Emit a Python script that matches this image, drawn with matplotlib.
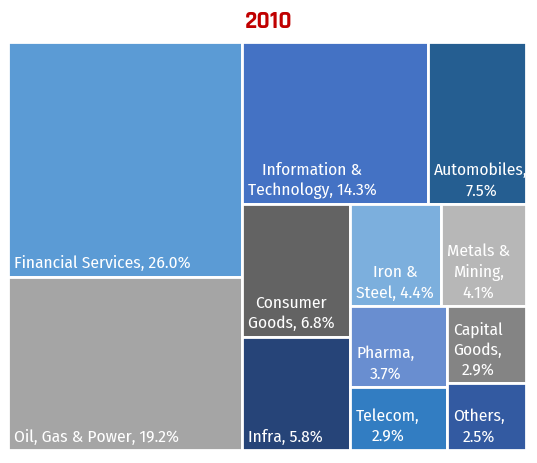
import matplotlib
matplotlib.use("Agg")
import matplotlib.pyplot as plt
from matplotlib.patches import Rectangle

# sector share, 2010 (%)
sectors = ["Financial Services", "Oil, Gas & Power", "Information & Technology",
           "Automobiles", "Consumer Goods", "Infra", "Iron & Steel",
           "Metals & Mining", "Pharma", "Telecom", "Capital Goods", "Others"]
shares = [26.0, 19.2, 14.3, 7.5, 6.8, 5.8, 4.4, 4.1, 3.7, 2.9, 2.9, 2.5]
labels = ["Financial Services, 26.0%", "Oil, Gas & Power, 19.2%",
          "Information &\nTechnology, 14.3%", "Automobiles,\n7.5%",
          "Consumer\nGoods, 6.8%", "Infra, 5.8%", "Iron &\nSteel, 4.4%",
          "Metals &\nMining,\n4.1%", "Pharma,\n3.7%", "Telecom,\n2.9%",
          "Capital\nGoods,\n2.9%", "Others,\n2.5%"]
colors = ["#5B9BD5", "#A5A5A5", "#4472C4", "#255E91", "#636363", "#264478",
          "#7CAFDD", "#B7B7B7", "#698ED0", "#327DC2", "#848484", "#335AA1"]


def worst(row, w):
    s = sum(row)
    return max(max(w * w * r / (s * s), s * s / (w * w * r)) for r in row)


def layout_row(row, x, y, dx, dy):
    # place a row of areas along the shorter side, return rects + leftover box
    s = sum(row)
    rects = []
    if dx >= dy:
        width = s / dy
        cy = y
        for r in row:
            h = r / width
            rects.append((x, cy, width, h))
            cy += h
        return rects, (x + width, y, dx - width, dy)
    height = s / dx
    cx = x
    for r in row:
        w = r / height
        rects.append((cx, y, w, height))
        cx += w
    return rects, (x, y + height, dx, dy - height)


def squarify(values, x, y, dx, dy):
    total = sum(values)
    areas = [v * dx * dy / total for v in values]
    rects = []
    box = (x, y, dx, dy)
    i = 0
    while i < len(areas):
        side = min(box[2], box[3])
        row = [areas[i]]
        i += 1
        while i < len(areas) and worst(row + [areas[i]], side) <= worst(row, side):
            row.append(areas[i])
            i += 1
        r, box = layout_row(row, *box)
        rects.extend(r)
    return rects


W, H = 518.0, 408.0
fig = plt.figure(figsize=(5.37, 4.63), dpi=100)
ax = fig.add_axes([8 / 537, 1 - 450 / 463, 518 / 537, 408 / 463])
ax.set_xlim(0, W)
ax.set_ylim(H, 0)
ax.axis("off")

font = ["Fira Sans Condensed", "DejaVu Sans"]
for (rx, ry, rw, rh), lab, col in zip(squarify(shares, 0, 0, W, H), labels, colors):
    ax.add_patch(Rectangle((rx, ry), rw, rh, facecolor=col, edgecolor="white",
                           linewidth=2))
    ax.text(rx + 6, ry + rh - 5, lab, ha="left", va="bottom", ma="center",
            color="white", fontsize=12.5, family=font, fontweight="normal",
            linespacing=1.35)

fig.text(0.5, 1 - 20 / 463, "2010", ha="center", va="center", color="#C00000",
         fontsize=18, fontweight="bold", family=["Rajdhani", "DejaVu Sans"])

fig.savefig("out.png", dpi=100)
